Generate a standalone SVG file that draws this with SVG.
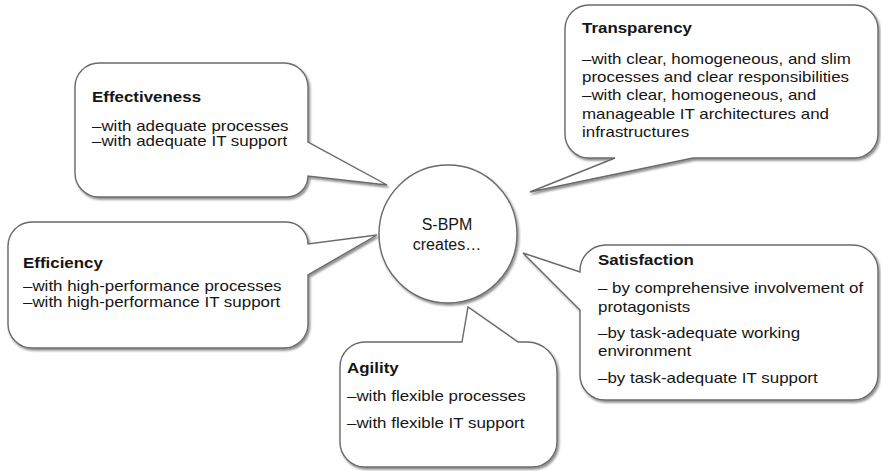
<svg xmlns="http://www.w3.org/2000/svg" width="881" height="471" viewBox="0 0 881 471">
<defs>
<filter id="sh" x="-10%" y="-10%" width="125%" height="130%">
<feDropShadow dx="1.5" dy="2" stdDeviation="1.2" flood-color="#000" flood-opacity="0.45"/>
</filter>
</defs>
<style>
.bub{fill:#fff;stroke:#6a6a6a;stroke-width:1.4;filter:url(#sh);stroke-linejoin:miter}
.t{font-family:"Liberation Sans",Arial,sans-serif;font-size:14px;fill:#151515}
.h{font-weight:bold}
.c{font-family:"Liberation Sans",Arial,sans-serif;font-size:16px;fill:#151515;text-anchor:middle}
</style>
<rect width="881" height="471" fill="#fff"/>
<g id="connectors"/>
<g id="center">
<circle class="bub" cx="448" cy="234" r="69"/>
<text class="c" x="447" y="230">S-BPM</text>
<text class="c" x="447" y="250">creates…</text>
</g>
<g id="effectiveness">
<path class="bub" d="M 99,63 H 284 A 24 24 0 0 1 308 87 V 142 L 387 185 L 308 176 A 21 21 0 0 1 287 197 H 99 A 24 24 0 0 1 75 173 V 87 A 24 24 0 0 1 99 63 Z"/>
<g transform="translate(92,0) scale(1.21,1)">
<text class="t h" x="0" y="102">Effectiveness</text>
<text class="t" x="0" y="131">–with adequate processes</text>
<text class="t" x="0" y="146.5">–with adequate IT support</text>
</g>
</g>
<g id="transparency">
<path class="bub" d="M 589,5 H 854 A 24 24 0 0 1 878 29 V 134 A 24 24 0 0 1 854 158 H 693 L 530 192 L 615 158 H 589 A 24 24 0 0 1 565 134 V 29 A 24 24 0 0 1 589 5 Z"/>
<g transform="translate(582,0) scale(1.21,1)">
<text class="t h" x="0" y="33">Transparency</text>
<text class="t" x="0" y="64">–with clear, homogeneous, and slim</text>
<text class="t" x="0" y="82">processes and clear responsibilities</text>
<text class="t" x="0" y="100.5">–with clear, homogeneous, and</text>
<text class="t" x="0" y="119">manageable IT architectures and</text>
<text class="t" x="0" y="137">infrastructures</text>
</g>
</g>
<g id="efficiency">
<path class="bub" d="M 32,222 H 286 A 22 22 0 0 1 308 244 L 377 235 L 308 275 V 324 A 24 24 0 0 1 284 348 H 32 A 24 24 0 0 1 8 324 V 246 A 24 24 0 0 1 32 222 Z"/>
<g transform="translate(23,0) scale(1.21,1)">
<text class="t h" x="0" y="268">Efficiency</text>
<text class="t" x="0" y="291">–with high-performance processes</text>
<text class="t" x="0" y="307">–with high-performance IT support</text>
</g>
</g>
<g id="satisfaction">
<path class="bub" d="M 605,245 H 853 A 25 25 0 0 1 878 270 V 375 A 25 25 0 0 1 853 400 H 605 A 25 25 0 0 1 580 375 V 310 L 523 253 L 580 272 A 26 26 0 0 1 605 245 Z"/>
<g transform="translate(598,0) scale(1.21,1)">
<text class="t h" x="0" y="265">Satisfaction</text>
<text class="t" x="0" y="293">– by comprehensive involvement of</text>
<text class="t" x="0" y="312">protagonists</text>
<text class="t" x="0" y="338">–by task-adequate working</text>
<text class="t" x="0" y="356">environment</text>
<text class="t" x="0" y="383">–by task-adequate IT support</text>
</g>
</g>
<g id="agility">
<path class="bub" d="M 365,342 H 462 L 468 307 L 518 342 H 527 A 30 30 0 0 1 557 372 V 442 A 25 25 0 0 1 532 467 H 365 A 25 25 0 0 1 340 442 V 367 A 25 25 0 0 1 365 342 Z"/>
<g transform="translate(347,0) scale(1.21,1)">
<text class="t h" x="0" y="373">Agility</text>
<text class="t" x="0" y="401">–with flexible processes</text>
<text class="t" x="0" y="428">–with flexible IT support</text>
</g>
</g>
</svg>
